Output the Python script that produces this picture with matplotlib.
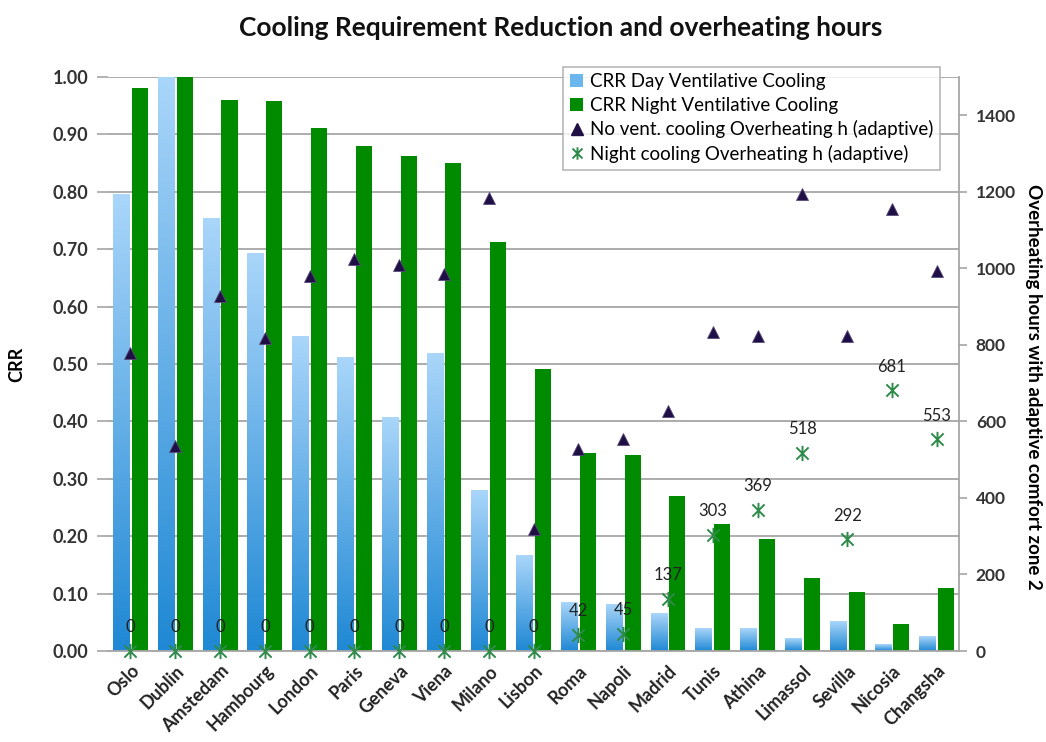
#! /usr/bin/env python3

import numpy as np
import matplotlib
matplotlib.use("Agg")
import matplotlib.pyplot as plt
from matplotlib.colors import LinearSegmentedColormap
from matplotlib.path import Path
from matplotlib.lines import Line2D
from matplotlib.patches import Patch

cities = ["Oslo", "Dublin", "Amstedam", "Hambourg", "London", "Paris", "Geneva",
          "Viena", "Milano", "Lisbon", "Roma", "Napoli", "Madrid", "Tunis",
          "Athina", "Limassol", "Sevilla", "Nicosia", "Changsha"]
crr_day = [0.795, 1.00, 0.753, 0.693, 0.548, 0.512, 0.406, 0.518, 0.279, 0.166,
           0.084, 0.081, 0.065, 0.039, 0.039, 0.021, 0.052, 0.012, 0.026]
crr_night = [0.980, 1.00, 0.960, 0.958, 0.912, 0.879, 0.863, 0.851, 0.713, 0.491,
             0.345, 0.342, 0.270, 0.221, 0.196, 0.128, 0.102, 0.047, 0.109]
oh_novent = [780, 535, 927, 818, 981, 1025, 1008, 984, 1185, 320,
             528, 555, 628, 833, 823, 1195, 823, 1155, 992]
oh_night = [0, 0, 0, 0, 0, 0, 0, 0, 0, 0, 42, 45, 137, 303, 369, 518, 292, 681, 553]

plt.rcParams['font.family'] = ['Lato', 'DejaVu Sans']

# asterisk marker like the spreadsheet one: X plus vertical stroke
star = Path([(-1, -1), (1, 1), (-1, 1), (1, -1), (0, -1.25), (0, 1.25)],
            [Path.MOVETO, Path.LINETO, Path.MOVETO, Path.LINETO, Path.MOVETO, Path.LINETO])

fig = plt.figure(figsize=(10.46, 7.42), dpi=100)
ax = fig.add_axes([0.1033, 0.1226, 0.8137, 0.7736])
ax2 = ax.twinx()

x = np.arange(len(cities))
w = 0.36
bars_day = ax.bar(x - 0.21, crr_day, w, color='#5aa9e6', zorder=2)
ax.bar(x + 0.21, crr_night, w, color='#008a00', zorder=2)

# vertical gradient inside each day bar
grad = np.linspace(0, 1, 256).reshape(-1, 1)
cmap = LinearSegmentedColormap.from_list('day', ['#1f88d4', '#aad6fa'])
for b in bars_day:
    x0, y0 = b.get_xy()
    ax.imshow(grad, extent=(x0, x0 + b.get_width(), y0, y0 + b.get_height()),
              origin='lower', cmap=cmap, aspect='auto', zorder=2.1)

ax.set_xlim(-0.5, len(cities) - 0.5)
ax.set_ylim(0, 1.0)
ax.set_yticks(np.arange(0, 1.01, 0.1))
ax.set_yticklabels([f"{v:.2f}" for v in np.arange(0, 1.01, 0.1)],
                   fontsize=13, fontweight='bold', color='#333333')
ax.yaxis.grid(True, color='#a6a6a6', linewidth=1.3, zorder=0)
ax.set_axisbelow(True)
ax.tick_params(axis='y', length=8, color='#a6a6a6', width=1.2, pad=6)
ax.set_xticks(x)
ax.set_xticklabels(cities, rotation=45, ha='right', va='top', rotation_mode='anchor',
                   fontsize=13, fontweight='bold', color='#222222')
ax.tick_params(axis='x', length=0, pad=8)
for s in ['top', 'left', 'right']:
    ax.spines[s].set_visible(False)
ax.spines['bottom'].set_color('#a6a6a6')
ax.spines['bottom'].set_linewidth(1.3)
ax.set_ylabel('CRR', fontsize=13, fontweight='bold', labelpad=20)

ax2.plot(x, oh_novent, linestyle='none', marker='^', markersize=9,
         color='#1e0f45', markeredgecolor='#5a4a7a', markeredgewidth=0.6,
         zorder=5, clip_on=False)
ax2.plot(x, oh_night, linestyle='none', marker=star, markersize=11,
         color='#2e8b4a', markeredgewidth=1.4, zorder=5, clip_on=False)
for xi, v in zip(x, oh_night):
    ax2.annotate(str(v), (xi, v), xytext=(0, 17), textcoords='offset points',
                 ha='center', va='center', fontsize=12, color='#222222')
ax2.set_ylim(0, 1500)
ax2.set_yticks(np.arange(0, 1401, 200))
ax2.tick_params(axis='y', length=6, color='#a6a6a6', width=1.2, pad=6,
                labelsize=12.5, labelcolor='#333333')
for lab in ax2.get_yticklabels():
    lab.set_fontweight('bold')
for s in ['top', 'left', 'bottom']:
    ax2.spines[s].set_visible(False)
ax2.spines['right'].set_color('#a6a6a6')
ax2.spines['right'].set_linewidth(1.3)
ax2.set_ylabel('Overheating hours with adaptive comfort zone 2', rotation=-90,
               fontsize=13.5, fontweight='bold', va='center', ha='center')
ax2.yaxis.set_label_coords(1.087, 0.46)

handles = [
    Patch(facecolor='#6cb6ee', label='CRR Day Ventilative Cooling'),
    Patch(facecolor='#008a00', label='CRR Night Ventilative Cooling'),
    Line2D([], [], linestyle='none', marker='^', markersize=9, color='#1e0f45',
           label='No vent. cooling Overheating h (adaptive)'),
    Line2D([], [], linestyle='none', marker=star, markersize=9, color='#2e8b4a',
           markeredgewidth=1.4, label='Night cooling Overheating h (adaptive)'),
]
leg = ax2.legend(handles=handles, loc='upper right', bbox_to_anchor=(0.977, 1.018),
                 borderaxespad=0, fontsize=13.5, frameon=True, fancybox=False,
                 edgecolor='#a6a6a6', handlelength=0.7, handletextpad=0.35,
                 labelspacing=0.35, borderpad=0.35)
leg.get_frame().set_linewidth(1.2)
leg.set_zorder(10)

fig.suptitle('Cooling Requirement Reduction and overheating hours', x=0.536, y=0.978,
             fontsize=19, fontweight='bold', color='#111111')

fig.savefig('out.png', dpi=100)
